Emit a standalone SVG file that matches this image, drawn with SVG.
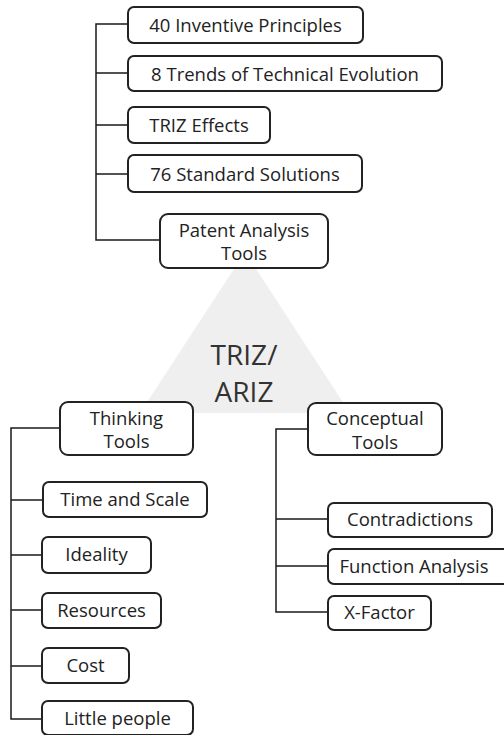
<svg xmlns="http://www.w3.org/2000/svg" width="504" height="735" viewBox="0 0 504 735">
  <style>
    .box { fill: #ffffff; stroke: #222222; stroke-width: 2; }
    .lbl { font-family: "Open Sans", "Liberation Sans", sans-serif; font-size: 18.5px; fill: #222222; text-anchor: middle; }
    .big { font-family: "Open Sans", "Liberation Sans", sans-serif; font-size: 28px; fill: #333333; text-anchor: middle; }
    .wire { fill: none; stroke: #1a1a1a; stroke-width: 1.5; }
  </style>
  <rect width="504" height="735" fill="#ffffff"/>

  <!-- central hub -->
  <g id="hub">
    <polygon points="245,252 140,413 350,413" fill="#efefef"/>
    <text class="big" x="244" y="365">TRIZ/</text>
    <text class="big" x="244" y="402">ARIZ</text>
  </g>

  <!-- connectors -->
  <g id="connectors">
    <path class="wire" d="M128,24 H96 V240 H160"/>
    <path class="wire" d="M96,73 H128 M96,125 H128 M96,174 H128"/>
    <path class="wire" d="M60,428 H11 V719 H42"/>
    <path class="wire" d="M11,500 H42 M11,555 H42 M11,610 H42 M11,666 H42"/>
    <path class="wire" d="M308,429 H276 V612 H328"/>
    <path class="wire" d="M276,519 H328 M276,566 H328"/>
  </g>

  <!-- patent / knowledge-base tools -->
  <g id="inventive-principles">
    <rect class="box" x="128" y="7" width="235" height="36" rx="6"/>
    <text class="lbl" x="245.5" y="31.5">40 Inventive Principles</text>
  </g>
  <g id="trends">
    <rect class="box" x="128" y="56" width="314" height="35" rx="6"/>
    <text class="lbl" x="285" y="80.5">8 Trends of Technical Evolution</text>
  </g>
  <g id="triz-effects">
    <rect class="box" x="128" y="107" width="142" height="36" rx="6"/>
    <text class="lbl" x="199" y="131.5">TRIZ Effects</text>
  </g>
  <g id="standard-solutions">
    <rect class="box" x="128" y="155" width="234" height="37" rx="6"/>
    <text class="lbl" x="245" y="180.5">76 Standard Solutions</text>
  </g>
  <g id="patent-analysis">
    <rect class="box" x="160" y="214" width="168" height="54" rx="8"/>
    <text class="lbl" x="244" y="237">Patent Analysis</text>
    <text class="lbl" x="244" y="260">Tools</text>
  </g>

  <!-- thinking tools -->
  <g id="thinking-tools">
    <rect class="box" x="60" y="402" width="133" height="53" rx="8"/>
    <text class="lbl" x="126.5" y="425">Thinking</text>
    <text class="lbl" x="126.5" y="448">Tools</text>
  </g>
  <g id="time-and-scale">
    <rect class="box" x="43" y="482" width="164" height="35" rx="6"/>
    <text class="lbl" x="125" y="506">Time and Scale</text>
  </g>
  <g id="ideality">
    <rect class="box" x="42" y="537" width="109" height="36" rx="6"/>
    <text class="lbl" x="96.5" y="561">Ideality</text>
  </g>
  <g id="resources">
    <rect class="box" x="42" y="593" width="119" height="35" rx="6"/>
    <text class="lbl" x="101.5" y="617">Resources</text>
  </g>
  <g id="cost">
    <rect class="box" x="42" y="648" width="87" height="35" rx="6"/>
    <text class="lbl" x="85.5" y="672">Cost</text>
  </g>
  <g id="little-people">
    <rect class="box" x="42" y="701" width="151" height="34" rx="6"/>
    <text class="lbl" x="117.5" y="725">Little people</text>
  </g>

  <!-- conceptual tools -->
  <g id="conceptual-tools">
    <rect class="box" x="308" y="403" width="134" height="52" rx="8"/>
    <text class="lbl" x="375" y="425">Conceptual</text>
    <text class="lbl" x="375" y="449">Tools</text>
  </g>
  <g id="contradictions">
    <rect class="box" x="328" y="503" width="164" height="34" rx="6"/>
    <text class="lbl" x="410" y="526">Contradictions</text>
  </g>
  <g id="function-analysis">
    <rect class="box" x="328" y="549" width="184" height="35" rx="6"/>
    <text class="lbl" x="414" y="573">Function Analysis</text>
  </g>
  <g id="x-factor">
    <rect class="box" x="328" y="596" width="103" height="34" rx="6"/>
    <text class="lbl" x="379.5" y="619">X-Factor</text>
  </g>
</svg>
